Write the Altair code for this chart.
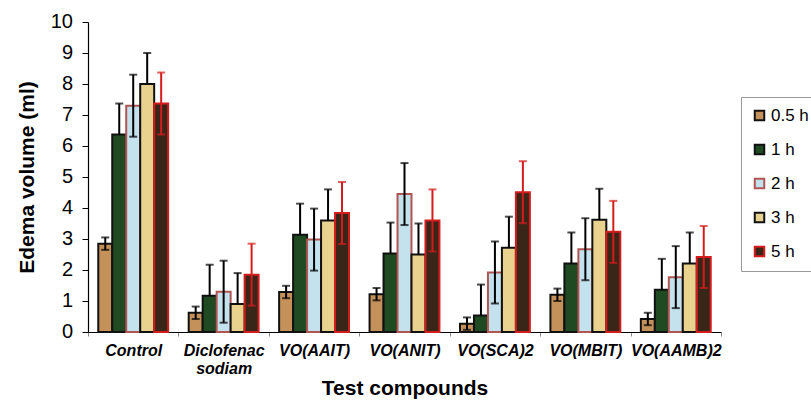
import altair as alt
import pandas as pd

compounds = ["Control", "Diclofenac sodiam", "VO(AAIT)", "VO(ANIT)", "VO(SCA)2", "VO(MBIT)", "VO(AAMB)2"]
times = ["0.5 h", "1 h", "2 h", "3 h", "5 h"]
y_ticks = [0, 1, 2, 3, 4, 5, 6, 7, 8, 9, 10]

v05 = [2.85, 0.62, 1.29, 1.22, 0.27, 1.20, 0.42]
v1 = [6.37, 1.17, 3.14, 2.53, 0.53, 2.21, 1.36]
v2 = [7.30, 1.30, 2.98, 4.45, 1.92, 2.67, 1.77]
v3 = [8.00, 0.90, 3.60, 2.50, 2.72, 3.62, 2.21]
v5 = [7.37, 1.85, 3.84, 3.60, 4.51, 3.23, 2.42]

e05 = [0.2, 0.2, 0.2, 0.2, 0.2, 0.2, 0.2]
e1 = [1.0, 1.0, 1.0, 1.0, 1.0, 1.0, 1.0]
e2 = [1.0, 1.0, 1.0, 1.0, 1.0, 1.0, 1.0]
e3 = [1.0, 1.0, 1.0, 1.0, 1.0, 1.0, 1.0]
e5 = [1.0, 1.0, 1.0, 1.0, 1.0, 1.0, 1.0]

# whether the lower half of the error bar is visible (bar drawn over it otherwise)
lower_visible = {"0.5 h": True, "1 h": False, "2 h": True, "3 h": False, "5 h": True}

fills = ["#C4915A", "#1F4A22", "#C3E2EE", "#E9D18E", "#3A2619"]
strokes = ["#111111", "#111111", "#B05552", "#111111", "#D41C1C"]

vals = [v05, v1, v2, v3, v5]
errs = [e05, e1, e2, e3, e5]

rows = []
caps = []
for t, vs, es in zip(times, vals, errs):
    for c, v, e in zip(compounds, vs, es):
        lo = v - e if lower_visible[t] else v
        rows.append({"compound": c, "time": t, "value": v, "lo": lo, "hi": v + e})
        caps.append({"compound": c, "time": t, "cap": v + e})
        if lower_visible[t]:
            caps.append({"compound": c, "time": t, "cap": v - e})
df = pd.DataFrame(rows)
dcaps = pd.DataFrame(caps)
dticks = pd.DataFrame({"t": y_ticks})

FONT = "Liberation Sans"

x_axis = alt.Axis(
    title="Test compounds",
    titleFont=FONT, titleFontSize=21, titleFontWeight="bold", titleColor="black",
    titlePadding=1,
    labelFont=FONT, labelFontSize=16, labelFontWeight="bold", labelFontStyle="italic",
    labelColor="black", labelAngle=0, labelPadding=6,
    labelExpr="datum.value == 'Diclofenac sodiam' ? ['Diclofenac', 'sodiam'] : datum.label",
    tickBand="extent", tickSize=4, tickColor="#888", domainColor="black", domainWidth=1.2,
    labelLineHeight=18, labelOverlap=False,
)
x_scale = alt.Scale(paddingInner=0, paddingOuter=0)
xo = alt.XOffset("time:N", sort=times, scale=alt.Scale(paddingOuter=0.735, paddingInner=0))

y_scale = alt.Scale(domain=[0, 10], nice=False)
y_axis = alt.Axis(
    title="Edema volume (ml)", values=y_ticks, tickCount=11, labels=False,
    titleFont=FONT, titleFontSize=21, titleFontWeight="bold", titleColor="black",
    titlePadding=44,
    tickSize=6, tickColor="black", domainColor="black", domainWidth=1.2, grid=False,
)

legend = alt.Legend(
    title=None, orient="none", legendX=653, legendY=75,
    symbolType="square", symbolSize=90, symbolStrokeWidth=2,
    labelFont=FONT, labelFontSize=17, labelColor="black", labelOffset=3,
    rowPadding=15, padding=10, strokeColor="#999", fillColor="white",
)

bars = alt.Chart(df).mark_bar(strokeWidth=2).encode(
    x=alt.X("compound:N", sort=compounds, scale=x_scale, axis=x_axis),
    xOffset=xo,
    y=alt.Y("value:Q", scale=y_scale, axis=y_axis),
    fill=alt.Fill("time:N", sort=times, scale=alt.Scale(domain=times, range=fills), legend=legend),
    stroke=alt.Stroke("time:N", sort=times, scale=alt.Scale(domain=times, range=strokes), legend=legend),
)

errcolor = alt.condition(alt.datum.time == "5 h", alt.value("#D41C1C"), alt.value("black"))

rules = alt.Chart(df).mark_rule(strokeWidth=2).encode(
    x=alt.X("compound:N", sort=compounds, scale=x_scale, axis=x_axis),
    xOffset=xo,
    y=alt.Y("lo:Q", scale=y_scale, axis=y_axis),
    y2="hi:Q",
    color=errcolor,
)

capmarks = alt.Chart(dcaps).mark_tick(orient="horizontal", size=8, thickness=2).encode(
    x=alt.X("compound:N", sort=compounds, scale=x_scale, axis=x_axis),
    xOffset=xo,
    y=alt.Y("cap:Q", scale=y_scale, axis=y_axis),
    color=errcolor,
)

ticklabels = alt.Chart(dticks).mark_text(
    align="right", baseline="middle", font=FONT, fontSize=20, color="black", dx=-15
).encode(
    x=alt.value(0),
    y=alt.Y("t:Q", scale=y_scale, axis=y_axis),
    text=alt.Text("t:Q", format="d"),
)

chart = alt.layer(bars, rules, capmarks, ticklabels).properties(
    width=633, height=310,
    autosize=alt.AutoSizeParams(type="none"),
    padding={"left": 88, "top": 22, "right": 90, "bottom": 69},
    background="white",
).configure_view(stroke=None)

chart.save("out.html", embed_options={"renderer": "svg", "actions": False})
